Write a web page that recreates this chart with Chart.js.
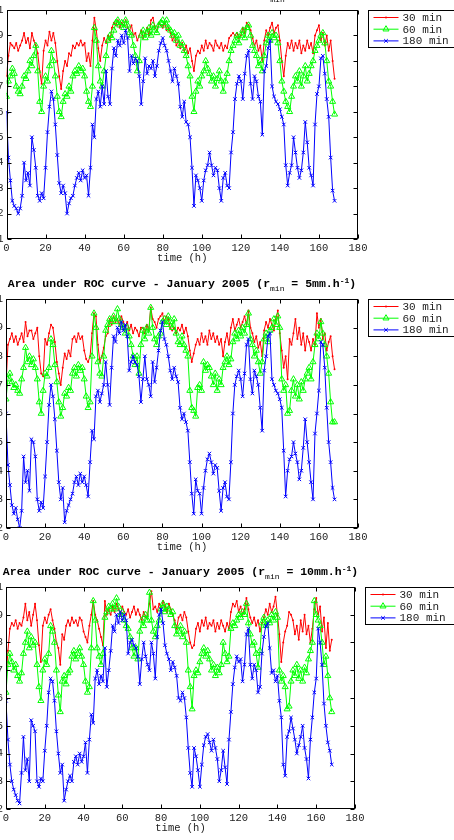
<!DOCTYPE html>
<html>
<head>
<meta charset="utf-8">
<script src="https://cdn.jsdelivr.net/npm/chart.js@4.4.0/dist/chart.umd.min.js"></script>
<style>
  html, body { margin: 0; padding: 0; background: #fff; overflow: hidden; }
  body { width: 454px; height: 840px; position: relative; }
  .panel { position: absolute; left: -34px; width: 488px; }
</style>
</head>
<body>
<div class="panel" style="top:-20px;height:287px"><canvas id="c1"></canvas></div>
<div class="panel" style="top:269px;height:287px"><canvas id="c2"></canvas></div>
<div class="panel" style="top:557px;height:280px"><canvas id="c3"></canvas></div>
<script>
// hourly time steps over the week (0..168 h)
const hours = Array.from({length: 169}, (_, i) => i);
const seriesNames = ['30 min', '60 min', '180 min'];
const rainThresholds = ['1mm', '5mm', '10mm'];
const yMins = [0.1, 0.2, 0.2];

// r_min = 1 mm/h
const auc30_1mm = [
  0.74, 0.82, 0.87, 0.86, 0.85, 0.87, 0.84, 0.86, 0.88, 0.91,
  0.87, 0.89, 0.85, 0.91, 0.88, 0.86, 0.83, 0.76, 0.71, 0.84,
  0.88, 0.86, 0.915, 0.88, 0.91, 0.87, 0.8, 0.74, 0.69, 0.76,
  0.8, 0.78, 0.83, 0.82, 0.86, 0.85, 0.87, 0.86, 0.88, 0.86,
  0.87, 0.8, 0.83, 0.78, 0.88, 0.97, 0.92, 0.85, 0.8, 0.86,
  0.89, 0.87, 0.9, 0.88, 0.93, 0.95, 0.94, 0.96, 0.93, 0.95,
  0.94, 0.96, 0.93, 0.92, 0.94, 0.9, 0.91, 0.88, 0.9, 0.92,
  0.89, 0.91, 0.93, 0.9, 0.96, 0.97, 0.93, 0.92, 0.95, 0.94,
  0.93, 0.95, 0.92, 0.93, 0.91, 0.88, 0.9, 0.86, 0.88, 0.85,
  0.87, 0.84, 0.86, 0.83, 0.85, 0.8, 0.76, 0.82, 0.84, 0.83,
  0.86, 0.84, 0.88, 0.85, 0.87, 0.86, 0.84, 0.88, 0.86, 0.85,
  0.87, 0.84, 0.86, 0.85, 0.89, 0.9, 0.91, 0.9, 0.91, 0.89,
  0.9, 0.93, 0.91, 0.95, 0.94, 0.92, 0.89, 0.86, 0.88, 0.84,
  0.86, 0.8, 0.88, 0.92, 0.9, 0.93, 0.95, 0.91, 0.93, 0.94,
  0.88, 0.8, 0.74, 0.82, 0.87, 0.85, 0.88, 0.84, 0.87, 0.85,
  0.88, 0.83, 0.86, 0.84, 0.88, 0.85, 0.87, 0.83, 0.9, 0.92,
  0.94, 0.88, 0.91, 0.86, 0.9, 0.84, 0.88, 0.8, 0.73
];
const auc60_1mm = [
  0.66, 0.72, 0.74, 0.77, 0.75, 0.7, 0.68, 0.67, 0.7, 0.74,
  0.73, 0.76, 0.8, 0.78, 0.82, 0.86, 0.76, 0.64, 0.6, 0.7,
  0.74, 0.72, 0.78, 0.84, 0.8, 0.74, 0.66, 0.6, 0.58, 0.64,
  0.67, 0.66, 0.7, 0.68, 0.74, 0.76, 0.75, 0.78, 0.76, 0.77,
  0.74, 0.68, 0.64, 0.62, 0.7, 0.93, 0.88, 0.78, 0.72, 0.7,
  0.76, 0.82, 0.88, 0.9, 0.89, 0.92, 0.95, 0.96, 0.94, 0.95,
  0.93, 0.96, 0.94, 0.91, 0.9, 0.86, 0.82, 0.76, 0.8, 0.9,
  0.92, 0.89, 0.91, 0.93, 0.9, 0.94, 0.92, 0.91, 0.94, 0.95,
  0.96, 0.94, 0.96, 0.93, 0.92, 0.9, 0.91, 0.88, 0.9, 0.86,
  0.87, 0.84, 0.82, 0.78, 0.74, 0.66, 0.6, 0.68, 0.72, 0.7,
  0.74, 0.76, 0.8, 0.77, 0.75, 0.72, 0.74, 0.7, 0.73, 0.76,
  0.72, 0.68, 0.72, 0.75, 0.8, 0.84, 0.86, 0.88, 0.9, 0.87,
  0.9, 0.92, 0.89, 0.93, 0.94, 0.9, 0.86, 0.84, 0.82, 0.78,
  0.8, 0.76, 0.82, 0.87, 0.9, 0.88, 0.91, 0.89, 0.9, 0.87,
  0.8, 0.72, 0.68, 0.64, 0.62, 0.6, 0.66, 0.7, 0.74, 0.72,
  0.76, 0.7, 0.74, 0.78, 0.72, 0.75, 0.78, 0.8, 0.84, 0.86,
  0.88, 0.9, 0.91, 0.87, 0.8, 0.72, 0.7, 0.64, 0.59
];
const auc180_1mm = [
  0.6, 0.42, 0.33, 0.25, 0.23, 0.22, 0.2, 0.22, 0.27, 0.4,
  0.33, 0.36, 0.31, 0.5, 0.45, 0.38, 0.27, 0.25, 0.28, 0.26,
  0.38, 0.52, 0.62, 0.68, 0.65, 0.55, 0.43, 0.32, 0.28, 0.31,
  0.28, 0.2, 0.24, 0.26, 0.27, 0.31, 0.34, 0.36, 0.33, 0.37,
  0.34, 0.35, 0.27, 0.38, 0.55, 0.5, 0.65, 0.68, 0.62, 0.7,
  0.63, 0.76, 0.66, 0.63, 0.77, 0.85, 0.82, 0.88, 0.86, 0.9,
  0.87, 0.92, 0.89, 0.76, 0.82, 0.79, 0.81, 0.8, 0.74, 0.63,
  0.72, 0.81, 0.75, 0.78, 0.77, 0.8, 0.74, 0.78, 0.84, 0.87,
  0.89, 0.86, 0.84, 0.8, 0.76, 0.72, 0.77, 0.74, 0.71, 0.62,
  0.58, 0.64, 0.56, 0.55, 0.5, 0.38, 0.23, 0.35, 0.33, 0.3,
  0.25, 0.33, 0.37, 0.39, 0.44, 0.39, 0.35, 0.38, 0.37, 0.3,
  0.25, 0.34, 0.36, 0.31, 0.3, 0.44, 0.52, 0.65, 0.71, 0.74,
  0.72, 0.65, 0.75, 0.82, 0.84, 0.71, 0.65, 0.74, 0.72, 0.66,
  0.64, 0.51, 0.76, 0.78, 0.85, 0.88, 0.7, 0.66, 0.64, 0.63,
  0.61, 0.58, 0.55, 0.39, 0.31, 0.36, 0.39, 0.5, 0.44, 0.38,
  0.34, 0.37, 0.44, 0.56, 0.48, 0.38, 0.35, 0.31, 0.55, 0.67,
  0.7, 0.81, 0.82, 0.75, 0.65, 0.58, 0.42, 0.29, 0.25
];

// r_min = 5 mm/h
const auc30_5mm = [
  0.7, 0.84, 0.86, 0.88, 0.85, 0.87, 0.84, 0.86, 0.88, 0.85,
  0.92, 0.87, 0.89, 0.89, 0.86, 0.88, 0.9, 0.8, 0.74, 0.73,
  0.86, 0.84, 0.88, 0.91, 0.9, 0.85, 0.78, 0.74, 0.7, 0.76,
  0.81, 0.79, 0.82, 0.8, 0.86, 0.87, 0.85, 0.88, 0.86, 0.87,
  0.82, 0.79, 0.78, 0.8, 0.88, 0.95, 0.94, 0.84, 0.78, 0.8,
  0.83, 0.87, 0.88, 0.93, 0.91, 0.94, 0.92, 0.93, 0.91, 0.94,
  0.92, 0.9, 0.92, 0.89, 0.91, 0.88, 0.9, 0.89, 0.87, 0.9,
  0.9, 0.88, 0.91, 0.89, 0.97, 0.93, 0.92, 0.9, 0.93, 0.94,
  0.95, 0.92, 0.94, 0.93, 0.9, 0.89, 0.9, 0.88, 0.9, 0.89,
  0.91, 0.88, 0.9, 0.87, 0.82, 0.78, 0.81, 0.84, 0.86, 0.84,
  0.88, 0.85, 0.87, 0.84, 0.89, 0.86, 0.88, 0.85, 0.87, 0.84,
  0.86, 0.8, 0.85, 0.88, 0.84, 0.9, 0.93, 0.89, 0.91, 0.93,
  0.9, 0.92, 0.94, 0.91, 0.96, 0.9, 0.88, 0.85, 0.87, 0.83,
  0.85, 0.8, 0.89, 0.92, 0.9, 0.93, 0.91, 0.89, 0.93, 0.96,
  0.88, 0.82, 0.76, 0.8, 0.72, 0.86, 0.84, 0.88, 0.93, 0.86,
  0.9, 0.84, 0.88, 0.82, 0.87, 0.85, 0.82, 0.86, 0.84, 0.95,
  0.9, 0.93, 0.86, 0.88, 0.82, 0.85, 0.87, 0.8, 0.755
];
const auc60_5mm = [
  0.65, 0.72, 0.74, 0.71, 0.69, 0.7, 0.68, 0.67, 0.72, 0.76,
  0.83, 0.78, 0.8, 0.77, 0.79, 0.76, 0.72, 0.64, 0.6, 0.68,
  0.74, 0.73, 0.76, 0.86, 0.84, 0.77, 0.71, 0.64, 0.59, 0.62,
  0.67, 0.66, 0.69, 0.68, 0.74, 0.76, 0.73, 0.77, 0.75, 0.76,
  0.72, 0.66, 0.62, 0.64, 0.8, 0.95, 0.9, 0.78, 0.74, 0.73,
  0.8, 0.89, 0.91, 0.93, 0.92, 0.94, 0.92, 0.965, 0.93, 0.91,
  0.9, 0.88, 0.9, 0.87, 0.84, 0.8, 0.77, 0.8, 0.74, 0.84,
  0.89, 0.86, 0.9, 0.88, 0.97, 0.9, 0.86, 0.84, 0.87, 0.88,
  0.92, 0.93, 0.91, 0.94, 0.92, 0.9, 0.93, 0.88, 0.85, 0.84,
  0.87, 0.84, 0.82, 0.8, 0.68, 0.62, 0.61, 0.59, 0.69, 0.7,
  0.68, 0.78, 0.75, 0.77, 0.76, 0.73, 0.7, 0.74, 0.68, 0.72,
  0.7, 0.76, 0.78, 0.8, 0.77, 0.79, 0.85, 0.88, 0.86, 0.89,
  0.87, 0.9, 0.88, 0.91, 0.95, 0.86, 0.84, 0.8, 0.82, 0.78,
  0.74, 0.78, 0.86, 0.88, 0.85, 0.89, 0.9, 0.93, 0.91, 0.94,
  0.9, 0.72, 0.68, 0.7, 0.6, 0.61, 0.68, 0.72, 0.66, 0.7,
  0.65, 0.71, 0.68, 0.72, 0.74, 0.76, 0.72, 0.78, 0.84, 0.88,
  0.86, 0.92, 0.88, 0.84, 0.8, 0.74, 0.64, 0.57, 0.57
];
const auc180_5mm = [
  0.6, 0.42, 0.35, 0.28, 0.25, 0.27, 0.23, 0.2, 0.26, 0.45,
  0.36, 0.4, 0.33, 0.51, 0.5, 0.45, 0.3, 0.26, 0.29, 0.27,
  0.38, 0.5, 0.63, 0.7, 0.66, 0.58, 0.47, 0.36, 0.3, 0.34,
  0.22, 0.26, 0.28, 0.3, 0.32, 0.36, 0.38, 0.35, 0.39, 0.36,
  0.38, 0.35, 0.31, 0.43, 0.54, 0.51, 0.66, 0.68, 0.64, 0.67,
  0.7, 0.78, 0.7, 0.63, 0.76, 0.87, 0.85, 0.9, 0.88, 0.92,
  0.89, 0.91, 0.87, 0.75, 0.78, 0.8, 0.78, 0.77, 0.73, 0.64,
  0.72, 0.8, 0.72, 0.7, 0.66, 0.78, 0.71, 0.76, 0.82, 0.89,
  0.92, 0.86, 0.84, 0.8, 0.75, 0.72, 0.76, 0.73, 0.71, 0.62,
  0.58, 0.6, 0.57, 0.54, 0.43, 0.32, 0.25, 0.37, 0.33, 0.32,
  0.25, 0.34, 0.4, 0.44, 0.46, 0.43, 0.39, 0.42, 0.41, 0.33,
  0.26, 0.34, 0.36, 0.31, 0.3, 0.43, 0.6, 0.7, 0.73, 0.75,
  0.72, 0.66, 0.74, 0.84, 0.86, 0.72, 0.67, 0.75, 0.73, 0.7,
  0.62, 0.54, 0.75, 0.8, 0.87, 0.88, 0.72, 0.7, 0.68, 0.67,
  0.65, 0.62, 0.47, 0.31, 0.4, 0.44, 0.45, 0.5, 0.46, 0.43,
  0.37, 0.4, 0.48, 0.58, 0.5, 0.43, 0.36, 0.3, 0.53, 0.6,
  0.68, 0.85, 0.84, 0.76, 0.62, 0.5, 0.43, 0.34, 0.3
];

// r_min = 10 mm/h
const auc30_10mm = [
  0.67, 0.77, 0.85, 0.87, 0.86, 0.88, 0.85, 0.87, 0.86, 0.89,
  0.94, 0.88, 0.91, 0.86, 0.9, 0.94, 0.88, 0.79, 0.73, 0.86,
  0.89, 0.87, 0.9, 0.92, 0.88, 0.85, 0.8, 0.78, 0.72, 0.83,
  0.81, 0.86, 0.88, 0.86, 0.89, 0.87, 0.88, 0.86, 0.89, 0.88,
  0.84, 0.82, 0.8, 0.86, 0.9, 0.95, 0.9, 0.88, 0.85, 0.82,
  0.79, 0.95, 0.9, 0.92, 0.9, 0.93, 0.91, 0.94, 0.92, 0.9,
  0.93, 0.91, 0.9, 0.92, 0.89, 0.91, 0.93, 0.9, 0.92, 0.9,
  0.88, 0.91, 0.89, 0.9, 0.94, 0.985, 0.92, 0.93, 0.91, 0.94,
  0.92, 0.95, 0.93, 0.91, 0.94, 0.92, 0.9, 0.88, 0.85, 0.89,
  0.9, 0.88, 0.91, 0.89, 0.84, 0.8, 0.78, 0.79, 0.85, 0.87,
  0.84, 0.88, 0.86, 0.89, 0.85, 0.87, 0.86, 0.88, 0.84, 0.87,
  0.85, 0.88, 0.86, 0.84, 0.87, 0.85, 0.91, 0.94, 0.93, 0.95,
  0.91, 0.93, 0.9, 0.92, 0.96, 0.92, 0.89, 0.87, 0.89, 0.86,
  0.88, 0.84, 0.87, 0.89, 0.92, 0.9, 0.94, 0.91, 0.93, 0.965,
  0.9, 0.83, 0.73, 0.8, 0.84, 0.86, 0.91, 0.9, 0.88, 0.83,
  0.86, 0.81, 0.88, 0.84, 0.9, 0.83, 0.86, 0.8, 0.85, 0.92,
  0.96, 0.9, 0.93, 0.84, 0.89, 0.78, 0.87, 0.77, 0.81
];
const auc60_10mm = [
  0.62, 0.72, 0.76, 0.73, 0.7, 0.72, 0.68, 0.66, 0.69, 0.76,
  0.8, 0.84, 0.78, 0.82, 0.79, 0.8, 0.72, 0.64, 0.59, 0.7,
  0.74, 0.72, 0.76, 0.86, 0.84, 0.8, 0.7, 0.61, 0.55, 0.66,
  0.68, 0.65, 0.69, 0.7, 0.75, 0.77, 0.74, 0.76, 0.78, 0.75,
  0.72, 0.66, 0.62, 0.64, 0.78, 0.95, 0.88, 0.78, 0.75, 0.72,
  0.76, 0.89, 0.91, 0.93, 0.92, 0.94, 0.92, 0.96, 0.93, 0.9,
  0.91, 0.88, 0.86, 0.85, 0.82, 0.78, 0.75, 0.78, 0.74, 0.84,
  0.88, 0.86, 0.9, 0.88, 0.98, 0.88, 0.84, 0.82, 0.86, 0.88,
  0.92, 0.94, 0.91, 0.93, 0.92, 0.9, 0.91, 0.86, 0.83, 0.84,
  0.86, 0.82, 0.84, 0.8, 0.7, 0.64, 0.56, 0.68, 0.7, 0.69,
  0.73, 0.76, 0.78, 0.75, 0.77, 0.74, 0.7, 0.72, 0.68, 0.71,
  0.69, 0.72, 0.8, 0.76, 0.73, 0.75, 0.85, 0.87, 0.86, 0.88,
  0.9, 0.89, 0.91, 0.9, 0.94, 0.87, 0.83, 0.79, 0.8, 0.76,
  0.71, 0.77, 0.87, 0.89, 0.86, 0.88, 0.87, 0.9, 0.88, 0.91,
  0.89, 0.7, 0.66, 0.68, 0.64, 0.56, 0.57, 0.66, 0.7, 0.68,
  0.72, 0.67, 0.7, 0.66, 0.71, 0.69, 0.74, 0.77, 0.8, 0.95,
  0.9, 0.88, 0.86, 0.8, 0.72, 0.75, 0.68, 0.6, 0.55
];
const auc180_10mm = [
  0.59, 0.45, 0.36, 0.3, 0.27, 0.25, 0.23, 0.22, 0.33, 0.46,
  0.34, 0.38, 0.3, 0.52, 0.5, 0.48, 0.3, 0.28, 0.31, 0.3,
  0.41, 0.5, 0.62, 0.67, 0.66, 0.59, 0.48, 0.4, 0.33, 0.36,
  0.23, 0.27, 0.3, 0.32, 0.3, 0.37, 0.39, 0.36, 0.4, 0.37,
  0.39, 0.44, 0.33, 0.45, 0.54, 0.51, 0.67, 0.7, 0.65, 0.68,
  0.66, 0.78, 0.64, 0.7, 0.77, 0.86, 0.84, 0.9, 0.87, 0.91,
  0.88, 0.9, 0.88, 0.76, 0.8, 0.81, 0.79, 0.78, 0.75, 0.65,
  0.74, 0.8, 0.75, 0.72, 0.7, 0.8, 0.76, 0.67, 0.82, 0.9,
  0.92, 0.87, 0.79, 0.76, 0.74, 0.7, 0.73, 0.71, 0.68, 0.6,
  0.59, 0.62, 0.6, 0.53, 0.42, 0.33, 0.28, 0.42, 0.39, 0.34,
  0.28, 0.36, 0.43, 0.46, 0.47, 0.44, 0.41, 0.45, 0.42, 0.38,
  0.3, 0.34, 0.41, 0.35, 0.29, 0.45, 0.55, 0.65, 0.71, 0.75,
  0.73, 0.74, 0.66, 0.72, 0.83, 0.85, 0.72, 0.67, 0.72, 0.7,
  0.62, 0.64, 0.76, 0.82, 0.86, 0.87, 0.78, 0.69, 0.7, 0.66,
  0.68, 0.59, 0.53, 0.36, 0.32, 0.46, 0.48, 0.53, 0.49, 0.45,
  0.4, 0.43, 0.46, 0.5, 0.42, 0.38, 0.31, 0.45, 0.53, 0.62,
  0.67, 0.85, 0.8, 0.72, 0.58, 0.5, 0.44, 0.41, 0.36
];

const panelSeries = [
  [auc30_1mm, auc60_1mm, auc180_1mm],
  [auc30_5mm, auc60_5mm, auc180_5mm],
  [auc30_10mm, auc60_10mm, auc180_10mm]
];

const mono = '"Liberation Mono", "DejaVu Sans Mono", monospace';
const inkColor = '#222';

// MATLAB-like line specs: r.-  g^-  bx-
const lineSpecs = [
  {color: '#ff0000', pointStyle: 'circle', radius: 1, border: 0, fill: '#ff0000'},
  {color: '#00ff00', pointStyle: 'triangle', radius: 3.5, border: 1, fill: 'rgba(0,0,0,0)'},
  {color: '#0000ff', pointStyle: 'crossRot', radius: 2.5, border: 1, fill: '#0000ff'}
];

// plot-box placement per panel (y axis width, right padding)
const layouts = [
  {yWidth: 40.5, right: 96},
  {yWidth: 40, right: 96},
  {yWidth: 40, right: 99}
];

// full box with inward ticks, like a MATLAB axes
const axesBox = {
  id: 'axesBox',
  afterDatasetsDraw(chart) {
    const {ctx, chartArea: a, scales} = chart;
    const tl = 4;
    const l = Math.round(a.left) + 0.5, r = Math.round(a.right) - 0.5;
    const t = Math.round(a.top) + 0.5, b = Math.round(a.bottom) - 0.5;
    ctx.save();
    ctx.strokeStyle = '#000';
    ctx.lineWidth = 1;
    ctx.strokeRect(l, t, r - l, b - t);
    ctx.beginPath();
    scales.x.ticks.forEach(tk => {
      const x = Math.round(scales.x.getPixelForValue(tk.value)) + 0.5;
      ctx.moveTo(x, b); ctx.lineTo(x, b - tl);
      ctx.moveTo(x, t); ctx.lineTo(x, t + tl);
    });
    scales.y.ticks.forEach(tk => {
      const y = Math.round(scales.y.getPixelForValue(tk.value)) + 0.5;
      ctx.moveTo(l, y); ctx.lineTo(l + tl, y);
      ctx.moveTo(r, y); ctx.lineTo(r - tl, y);
    });
    ctx.stroke();
    ctx.restore();
  }
};

// boxed legend to the right of the axes, line + marker + label
const boxLegend = {
  id: 'boxLegend',
  afterDraw(chart) {
    const {ctx, chartArea: a} = chart;
    const x0 = Math.round(a.right) + 10.5, y0 = Math.round(a.top) + 0.5;
    ctx.save();
    ctx.fillStyle = '#fff';
    ctx.fillRect(x0, y0, 100, 37);
    ctx.strokeStyle = '#000';
    ctx.lineWidth = 1;
    ctx.strokeRect(x0, y0, 100, 37);
    chart.data.datasets.forEach((ds, i) => {
      const y = y0 + 7 + i * 11.7;
      ctx.strokeStyle = ds.borderColor;
      ctx.lineWidth = 1;
      ctx.beginPath();
      ctx.moveTo(x0 + 5, y);
      ctx.lineTo(x0 + 30, y);
      ctx.stroke();
      ctx.fillStyle = ds.pointBackgroundColor;
      Chart.helpers.drawPoint(ctx, {
        pointStyle: ds.pointStyle, radius: ds.pointRadius,
        borderWidth: ds.pointBorderWidth, rotation: 0
      }, x0 + 17.5, y);
      ctx.fillStyle = inkColor;
      ctx.font = '11px ' + mono;
      ctx.textBaseline = 'middle';
      ctx.fillText(ds.label, x0 + 34, y + 0.5);
    });
    ctx.restore();
  }
};

// title with r_min subscript and h^-1 superscript
const rocTitle = {
  id: 'rocTitle',
  afterDraw(chart, args, opts) {
    const {ctx, chartArea: a} = chart;
    const big = 'bold 11.5px ' + mono;
    const parts = [
      {t: 'Area under ROC curve - January 2005 (r', f: big, dy: 0},
      {t: 'min', f: '8px ' + mono, dy: 4},
      {t: ' = ' + opts.threshold + '.h', f: big, dy: 0},
      {t: '-1', f: 'bold 8px ' + mono, dy: -4.5},
      {t: ')', f: big, dy: 0}
    ];
    ctx.save();
    let total = 0;
    parts.forEach(p => { ctx.font = p.f; p.w = ctx.measureText(p.t).width; total += p.w; });
    let x = (a.left + a.right) / 2 - total / 2;
    const base = a.top - 12;
    ctx.fillStyle = '#000';
    ctx.textBaseline = 'alphabetic';
    parts.forEach(p => { ctx.font = p.f; ctx.fillText(p.t, x, base + p.dy); x += p.w; });
    ctx.restore();
  }
};

['c1', 'c2', 'c3'].forEach((id, k) => {
  const lay = layouts[k];
  const datasets = panelSeries[k].map((values, i) => ({
    label: seriesNames[i],
    data: values,
    borderColor: lineSpecs[i].color,
    borderWidth: 1,
    pointStyle: lineSpecs[i].pointStyle,
    pointRadius: lineSpecs[i].radius,
    pointBorderWidth: lineSpecs[i].border,
    pointBorderColor: lineSpecs[i].color,
    pointBackgroundColor: lineSpecs[i].fill,
    tension: 0,
    order: 2 - i   // blue on top, then green, then red
  }));

  new Chart(document.getElementById(id), {
    type: 'line',
    data: {labels: hours, datasets: datasets},
    options: {
      responsive: true,
      maintainAspectRatio: false,
      animation: false,
      events: [],
      layout: {padding: {top: 30, right: lay.right, bottom: 0, left: 0}},
      plugins: {
        legend: {display: false},
        tooltip: {enabled: false},
        rocTitle: {threshold: rainThresholds[k]}
      },
      scales: {
        x: {
          type: 'linear', min: 0, max: 180,
          ticks: {stepSize: 20, font: {family: mono, size: 10.5}, color: inkColor,
                  padding: 3, maxRotation: 0, autoSkip: false},
          grid: {display: false, drawTicks: false},
          border: {display: false},
          title: {display: true, text: 'time (h)', font: {family: mono, size: 10.5},
                  color: inkColor, padding: {top: 0, bottom: 2}},
          afterFit: s => { s.height = 28; }
        },
        y: {
          min: yMins[k], max: 1,
          ticks: {stepSize: 0.1, font: {family: mono, size: 10.5}, color: inkColor, padding: 3,
                  callback: v => String(Number(v.toFixed(1)))},
          grid: {display: false, drawTicks: false},
          border: {display: false},
          afterFit: s => { s.width = lay.yWidth; }
        }
      }
    },
    plugins: [axesBox, boxLegend, rocTitle]
  });
});
</script>
</body>
</html>
